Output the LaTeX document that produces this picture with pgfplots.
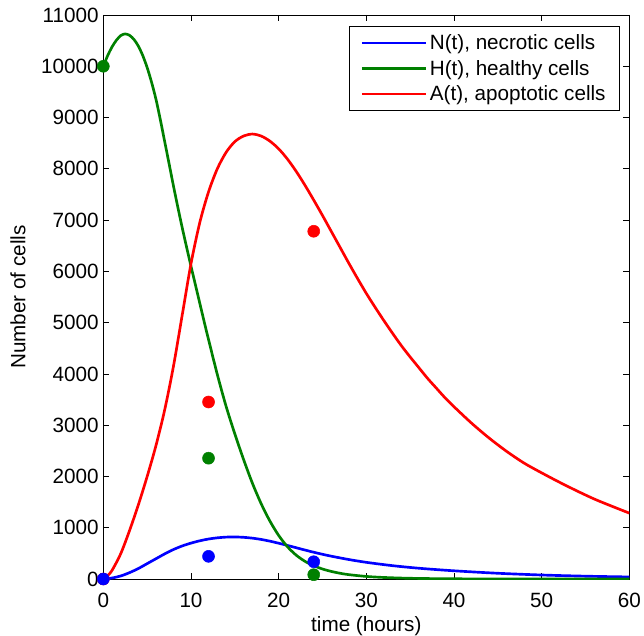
\documentclass[border=0pt]{standalone}
\usepackage{pgfplots}
\pgfplotsset{compat=1.18}
\usepackage{fontspec}
\setmainfont{Liberation Sans}
\definecolor{mblue}{RGB}{0,0,255}
\definecolor{mgreen}{RGB}{0,128,0}
\definecolor{mred}{RGB}{255,0,0}
\begin{document}
\begin{tikzpicture}
\begin{axis}[
  name=ax,
  scale only axis,
  width=394.5pt, height=423pt,
  xmin=0, xmax=60, ymin=0, ymax=11000,
  xtick={0,10,20,30,40,50,60},
  ytick={0,1000,2000,3000,4000,5000,6000,7000,8000,9000,10000,11000},
  scaled y ticks=false,
  tick align=inside,
  major tick length=4.5pt,
  tick style={black, line width=0.5pt},
  axis line style={black, line width=0.6pt},
  font=\fontsize{15.5}{18}\selectfont,
  /pgf/number format/assume math mode=true,
  yticklabel style={/pgf/number format/.cd, 1000 sep={}},
  xticklabel style={anchor=center, yshift=-15.75pt},
  xlabel={time (hours)},
  ylabel={Number of cells},
  every axis x label/.style={at={(axis description cs:0.5,0)}, anchor=center, yshift=-35pt},
  every axis y label/.style={at={(axis description cs:0,0.5)}, anchor=center, xshift=-64pt, rotate=90},
  legend style={at={(1,1)}, anchor=north east, xshift=-7.5pt, yshift=-8.25pt,
    draw=black, line width=0.6pt, inner xsep=8pt, inner ysep=4pt,
    font=\fontsize{15.5}{18}\selectfont, row sep=2.5pt},
  legend cell align=left,
  legend image code/.code={\draw[#1, line width=2pt] (0pt,0pt) -- (48pt,0pt);},
]
\addplot[mblue, line width=2pt, smooth] coordinates {
(0,0) (1,20) (2,60) (3,125) (4,205) (5,300) (6,395) (7,490) (8,575) (9,645) (10,700)
(11,745) (12,780) (13,803) (14,817) (15,820) (16,813) (17,797) (18,772) (19,738)
(20,698) (21,655) (22,610) (23,565) (24,522) (25,482) (26,445) (27,412) (28,380)
(30,325) (33,260) (36,210) (40,160) (45,112) (50,78) (55,55) (60,40)};
\addlegendentry{N(t), necrotic cells}
\addplot[mgreen, line width=2pt, smooth] coordinates {
(0,10000) (0.5,10210) (1,10380) (1.5,10510) (2,10600) (2.5,10631) (3,10602) (3.5,10522)
(4,10391) (4.5,10208) (5,9974) (5.5,9690) (6,9360) (6.5,8960) (7,8530) (7.5,8100)
(8,7665) (8.5,7250) (9,6850) (9.5,6470) (10,6100) (10.5,5740) (11,5380) (11.5,5020)
(12,4670) (13,3990) (14,3370) (15,2830) (16,2330) (17,1870) (18,1470) (19,1130)
(20,850) (21,630) (22,465) (23,345) (24,260) (25,195) (26,148) (27,112) (28,85)
(30,50) (32,30) (35,14) (40,4) (50,1) (60,0)};
\addlegendentry{H(t), healthy cells}
\addplot[mred, line width=2pt, smooth] coordinates {
(0,0) (0.5,70) (1,170) (2,500) (3,950) (4,1450) (5,2000) (6,2600) (7,3300) (8,4150)
(9,5150) (10,6150) (11,6950) (12,7550) (13,8000) (14,8320) (15,8530) (16,8640)
(17,8678) (18,8640) (19,8540) (20,8390) (21,8190) (22,7950) (23,7680) (24,7390)
(25,7090) (26,6780) (27,6470) (28,6160) (29,5860) (30,5570) (31,5300) (32,5040)
(33,4790) (34,4550) (35,4330) (36,4120) (37,3910) (38,3720) (39,3530) (40,3360)
(42,3040) (44,2750) (46,2490) (48,2260) (50,2070) (52,1890) (54,1720) (56,1560)
(58,1420) (60,1285)};
\addlegendentry{A(t), apoptotic cells}
\addplot[only marks, mark=*, mark size=4.5pt, mred, forget plot] coordinates {(0,0) (12,3452) (24,6782)};
\addplot[only marks, mark=*, mark size=4.5pt, mgreen, forget plot] coordinates {(0,10000) (12,2356) (24,84)};
\addplot[only marks, mark=*, mark size=4.5pt, mblue, forget plot] coordinates {(0,0) (12,442) (24,337)};
\end{axis}
\pgfresetboundingbox
\path[use as bounding box] ([xshift=-77.5pt, yshift=-42pt]ax.south west) rectangle ([xshift=11pt, yshift=11.25pt]ax.north east);
\end{tikzpicture}
\end{document}
